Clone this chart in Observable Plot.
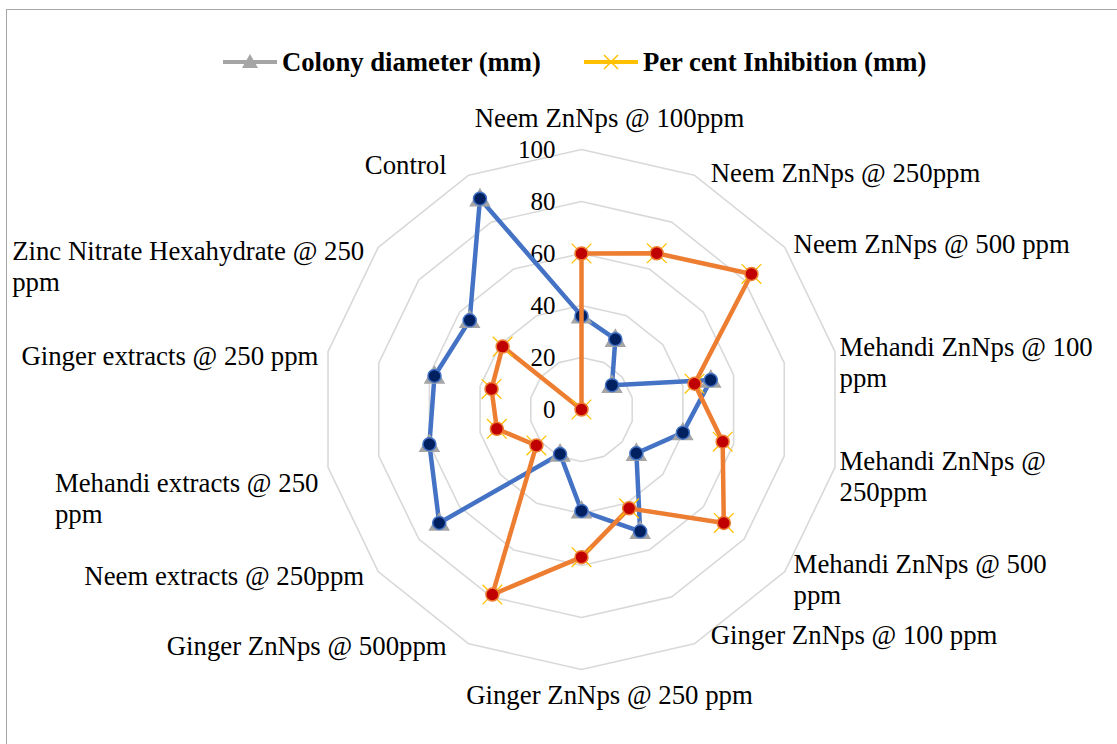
<!DOCTYPE html>
<html><head><meta charset="utf-8">
<script src="https://cdn.jsdelivr.net/npm/d3@7"></script>
<script src="https://cdn.jsdelivr.net/npm/@observablehq/plot@0.6"></script>
<style>
html,body{margin:0;padding:0;background:#fff;overflow:hidden;width:1117px;height:744px;}
#frame{position:absolute;left:6px;top:9px;width:1200px;height:800px;border:1.5px solid #a6a6a6;box-sizing:border-box;}
#legend{position:absolute;top:47px;left:223px;height:30px;display:flex;align-items:center;font-family:"Liberation Serif","Times New Roman",serif;font-weight:bold;font-size:26.7px;color:#000;white-space:nowrap;}
.item{display:flex;align-items:center;}
.item svg{margin-right:5px;}
#chart{position:absolute;left:0;top:90px;}
</style></head>
<body>
<div id="frame"></div>
<div id="legend"></div>
<div id="chart"></div>
<script>
const categories = [
  "Neem ZnNps @ 100ppm",
  "Neem ZnNps @ 250ppm",
  "Neem ZnNps @ 500 ppm",
  "Mehandi ZnNps @ 100\nppm",
  "Mehandi ZnNps @\n250ppm",
  "Mehandi ZnNps @ 500\nppm",
  "Ginger ZnNps @ 100 ppm",
  "Ginger ZnNps @ 250 ppm",
  "Ginger ZnNps @ 500ppm",
  "Neem extracts @ 250ppm",
  "Mehandi extracts @ 250\nppm",
  "Ginger extracts @ 250 ppm",
  "Zinc Nitrate Hexahydrate @ 250\nppm",
  "Control"
];
const colonyDiameter = [36, 30, 15, 51, 40, 27, 52, 39, 19, 70, 60, 58, 55, 90];
const percentInhibition = [60, 66.7, 83.6, 44.6, 55.7, 70, 42.2, 56.8, 79, 22.2, 33.4, 35.5, 38.8, 0];
const seriesNames = ["Colony diameter (mm)", "Per cent Inhibition (mm)"];
const gridLevels = [20, 40, 60, 80, 100];
const tickLevels = [0, 20, 40, 60, 80, 100];

// layout
const W = 1117, H = 654, cx = 581, cy = 319;
const k = 2.6; // px per value unit
const n = categories.length;
const ang = i => i * 2 * Math.PI / n;
const px = (i, r) => r * Math.sin(ang(i));
const py = (i, r) => r * Math.cos(ang(i));

const grid = gridLevels.flatMap(level => categories.map((c, i) => ({level, x: px(i, level), y: py(i, level)})));
const colony = colonyDiameter.map((v, i) => ({cat: categories[i], v, x: px(i, v), y: py(i, v)}));
const inhib = percentInhibition.map((v, i) => ({cat: categories[i], v, x: px(i, v), y: py(i, v)}));

// label placement (Excel-like: anchored outside the outer ring)
const labelFont = 26.8, lhEm = 1.16;
const ctx = document.createElement("canvas").getContext("2d");
ctx.font = `${labelFont}px "Liberation Serif"`;
const lh = labelFont * lhEm;
const labels = categories.map((c, i) => {
  const s = Math.sin(ang(i)), co = Math.cos(ang(i));
  const lines = c.split("\n");
  const extra = lines.length - 1;
  const w = Math.max(...lines.map(l => ctx.measureText(l).width));
  let left, down;
  if (s > 0.2) { left = 238 * s + 26; down = -256 * co - 6.5; }
  else if (s < -0.2) { left = 237 * s - 32 - w; down = -267 * co - 6.5 + 8 * extra + 15 * (1 - Math.abs(co)); }
  else { left = 28 - w / 2; down = co > 0 ? -292 : 285; }
  down += extra * lh / 2;
  return {text: c, x: left / k, y: -down / k};
});

const font = '"Liberation Serif","Times New Roman",serif';
const chart = Plot.plot({
  width: W, height: H, margin: 0,
  x: {domain: [-cx / k, (W - cx) / k], axis: null},
  y: {domain: [-(H - cy) / k, cy / k], axis: null},
  style: {fontFamily: font, background: "transparent", overflow: "visible"},
  marks: [
    Plot.line(grid, {x: "x", y: "y", z: "level", curve: "linear-closed", stroke: "#d9d9d9", strokeWidth: 1.6}),
    Plot.text(tickLevels, {x: 0, y: d => d, text: d => String(d), dx: -26, textAnchor: "end", fontSize: 25, fill: "#000"}),
    Plot.text(labels, {x: "x", y: "y", text: "text", textAnchor: "start", lineAnchor: "middle", lineHeight: lhEm, fontSize: labelFont, fill: "#000"}),
    Plot.line(colony, {x: "x", y: "y", curve: "linear-closed", stroke: "#4472C4", strokeWidth: 4.5, strokeLinejoin: "round"}),
    Plot.dot(colony, {x: "x", y: "y", symbol: "triangle", r: 8, dy: 1.5, fill: "#a5a5a5"}),
    Plot.dot(colony, {x: "x", y: "y", r: 6.5, fill: "#002060", stroke: "#4472C4", strokeWidth: 1.5}),
    Plot.line(inhib, {x: "x", y: "y", curve: "linear-closed", stroke: "#ED7D31", strokeWidth: 4.5, strokeLinejoin: "round"}),
    Plot.dot(inhib, {x: "x", y: "y", symbol: "times", r: 9, stroke: "#FFC000", strokeWidth: 1.3}),
    Plot.dot(inhib, {x: "x", y: "y", r: 6.5, fill: "#C00000", stroke: "#ED7D31", strokeWidth: 1.5})
  ]
});
document.getElementById("chart").appendChild(chart);

// legend
const legend = document.getElementById("legend");
const swatches = [
  `<svg width="54" height="20"><line x1="0" y1="10" x2="54" y2="10" stroke="#a5a5a5" stroke-width="4"/><path d="M27,2 L35,16 L19,16 Z" fill="#a5a5a5"/></svg>`,
  `<svg width="54" height="20"><line x1="0" y1="10" x2="54" y2="10" stroke="#FFC000" stroke-width="4"/><path d="M20,3 L34,17 M34,3 L20,17" stroke="#FFC000" stroke-width="1.5"/></svg>`
];
seriesNames.forEach((name, i) => {
  const d = document.createElement("div");
  d.className = "item";
  if (i === 0) d.style.marginRight = "43px";
  d.innerHTML = swatches[i] + `<span>${name}</span>`;
  legend.appendChild(d);
});
</script>
</body></html>
